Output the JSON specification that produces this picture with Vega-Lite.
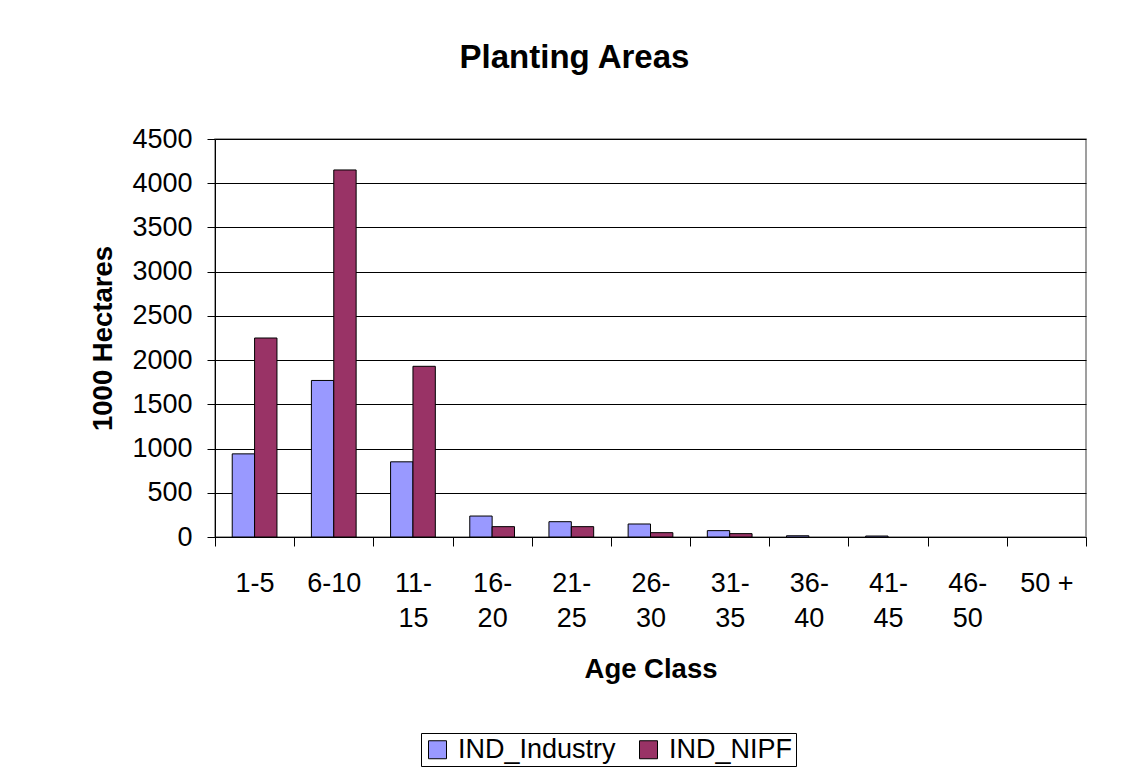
{
  "$schema": "https://vega.github.io/schema/vega-lite/v6.json",
  "width": 871,
  "height": 398,
  "autosize": {"type": "none"},
  "padding": {"left": 215, "top": 139, "right": 44, "bottom": 232},
  "background": "white",
  "title": {
    "text": "Planting Areas",
    "font": "Liberation Sans",
    "fontSize": 33,
    "fontWeight": "bold",
    "color": "black",
    "anchor": "middle",
    "frame": "group",
    "baseline": "alphabetic",
    "offset": 24,
    "dx": -76
  },
  "data": {
    "values": [
      {"age": "1-5", "series": "IND_Industry", "value": 940},
      {"age": "1-5", "series": "IND_NIPF", "value": 2250},
      {"age": "6-10", "series": "IND_Industry", "value": 1770},
      {"age": "6-10", "series": "IND_NIPF", "value": 4150},
      {"age": "11-15", "series": "IND_Industry", "value": 850},
      {"age": "11-15", "series": "IND_NIPF", "value": 1930},
      {"age": "16-20", "series": "IND_Industry", "value": 237},
      {"age": "16-20", "series": "IND_NIPF", "value": 117},
      {"age": "21-25", "series": "IND_Industry", "value": 173},
      {"age": "21-25", "series": "IND_NIPF", "value": 117},
      {"age": "26-30", "series": "IND_Industry", "value": 147},
      {"age": "26-30", "series": "IND_NIPF", "value": 49},
      {"age": "31-35", "series": "IND_Industry", "value": 72},
      {"age": "31-35", "series": "IND_NIPF", "value": 38},
      {"age": "36-40", "series": "IND_Industry", "value": 14},
      {"age": "36-40", "series": "IND_NIPF", "value": 0},
      {"age": "41-45", "series": "IND_Industry", "value": 11},
      {"age": "41-45", "series": "IND_NIPF", "value": 0},
      {"age": "46-50", "series": "IND_Industry", "value": 0},
      {"age": "46-50", "series": "IND_NIPF", "value": 0},
      {"age": "50 +", "series": "IND_Industry", "value": 0},
      {"age": "50 +", "series": "IND_NIPF", "value": 0}
    ]
  },
  "mark": {"type": "bar", "stroke": "black", "strokeWidth": 1},
  "encoding": {
    "x": {
      "field": "age",
      "type": "nominal",
      "sort": null,
      "scale": {"paddingInner": 0, "paddingOuter": 0},
      "axis": {
        "title": "Age Class",
        "titleFont": "Liberation Sans",
        "titleFontSize": 27.5,
        "titleFontWeight": "bold",
        "titleColor": "black",
        "titleBaseline": "alphabetic",
        "titleY": 140,
        "labelFont": "Liberation Sans",
        "labelFontSize": 27,
        "labelColor": "black",
        "labelAngle": 0,
        "labelPadding": 24,
        "labelLineHeight": 35,
        "labelExpr": "isString(datum.value) && length(datum.value) > 4 && datum.value != '50 +' ? [slice(datum.value, 0, 3), slice(datum.value, 3)] : datum.label",
        "tickBand": "extent",
        "tickSize": 9,
        "tickColor": "black",
        "domainColor": "black",
        "grid": false
      }
    },
    "xOffset": {
      "field": "series",
      "type": "nominal",
      "scale": {"paddingInner": 0, "paddingOuter": 0.77}
    },
    "y": {
      "field": "value",
      "type": "quantitative",
      "scale": {"domain": [0, 4500], "nice": false},
      "axis": {
        "title": "1000 Hectares",
        "titleFont": "Liberation Sans",
        "titleFontSize": 27.5,
        "titleFontWeight": "bold",
        "titleColor": "black",
        "titleBaseline": "alphabetic",
        "titleX": -104,
        "format": "d",
        "values": [0, 500, 1000, 1500, 2000, 2500, 3000, 3500, 4000, 4500],
        "labelFont": "Liberation Sans",
        "labelFontSize": 27,
        "labelColor": "black",
        "labelPadding": 15,
        "tickSize": 8,
        "tickColor": "black",
        "domainColor": "black",
        "grid": true,
        "gridColor": "black",
        "gridOpacity": 1,
        "gridWidth": 1
      }
    },
    "strokeOpacity": {
      "condition": {"test": "datum.value == 0", "value": 0},
      "value": 1
    },
    "color": {
      "field": "series",
      "type": "nominal",
      "scale": {"domain": ["IND_Industry", "IND_NIPF"], "range": ["#9999FF", "#993366"]},
      "legend": {
        "title": null,
        "orient": "none",
        "legendX": 206,
        "legendY": 594,
        "direction": "horizontal",
        "strokeColor": "black",
        "padding": 3,
        "symbolType": "square",
        "symbolSize": 324,
        "symbolStrokeColor": "black",
        "symbolStrokeWidth": 1,
        "symbolOpacity": 1,
        "labelFont": "Liberation Sans",
        "labelFontSize": 27,
        "labelColor": "black",
        "labelOffset": 7,
        "columnPadding": 19,
        "labelLimit": 400
      }
    }
  },
  "config": {
    "view": {"stroke": "#808080", "strokeWidth": 1.5}
  }
}
